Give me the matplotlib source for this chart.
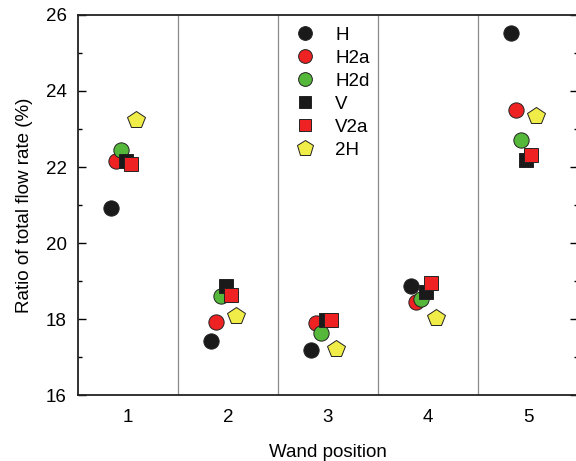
import matplotlib.pyplot as plt
import numpy as np

# Ratio of total flow rate (%) at each wand position
positions = [1, 2, 3, 4, 5]
series = ["H", "H2a", "H2d", "V", "V2a", "2H"]
ratio_H = [20.93, 17.42, 17.18, 18.88, 25.53]
ratio_H2a = [22.16, 17.92, 17.90, 18.44, 23.49]
ratio_H2d = [22.46, 18.60, 17.63, 18.53, 22.70]
ratio_V = [22.17, 18.86, 17.98, 18.70, 22.18]
ratio_V2a = [22.08, 18.63, 17.97, 18.94, 22.32]
ratio_2H = [23.24, 18.07, 17.22, 18.02, 23.35]
values = [ratio_H, ratio_H2a, ratio_H2d, ratio_V, ratio_V2a, ratio_2H]

# marker style per series
offsets = [-0.17, -0.125, -0.075, -0.02, 0.03, 0.082]
markers = ["o", "o", "o", "s", "s", "p"]
colors = ["#1a1a1a", "#ee2222", "#55b83a", "#1a1a1a", "#ee2222", "#f0ec48"]
sizes = [11, 11, 11, 10, 10, 13]

plt.rcParams['font.family'] = ['Liberation Sans', 'DejaVu Sans']
plt.rcParams['font.size'] = 13.5

fig = plt.figure(figsize=(5.76, 4.61), dpi=100)
ax = fig.add_axes([78 / 576, 66 / 461, 500 / 576, 380 / 461])

x = np.array(positions, dtype=float)
for name, vals, off, m, c, s in zip(series, values, offsets, markers, colors, sizes):
    ax.plot(x + off, vals, linestyle="none", marker=m, markersize=s,
            markerfacecolor=c, markeredgecolor="#222222", markeredgewidth=0.7,
            label=name)

# separators between wand positions
for b in [1.5, 2.5, 3.5, 4.5]:
    ax.axvline(b, color="#8a8a8a", linewidth=0.9, zorder=0)

ax.set_xlim(0.5, 5.5)
ax.set_ylim(16, 26)
ax.set_xticks(positions)
ax.set_yticks(np.arange(16, 27, 2))
ax.set_yticks(np.arange(17, 26, 2), minor=True)
ax.tick_params(axis="x", length=0, pad=10)
ax.tick_params(axis="y", which="major", direction="in", length=6, width=1,
               right=True, pad=8)
ax.tick_params(axis="y", which="minor", direction="in", length=3, width=1,
               right=True)
for sp in ax.spines.values():
    sp.set_linewidth(1.3)
    sp.set_color("#222222")

ax.set_xlabel("Wand position", labelpad=13)
ax.set_ylabel("Ratio of total flow rate (%)", labelpad=9)

ax.legend(loc="upper left", bbox_to_anchor=(0.426, 0.969), frameon=False,
          borderpad=0, borderaxespad=0, numpoints=1, handlelength=1.5,
          handletextpad=0.85, labelspacing=0.31, markerscale=0.9)

fig.savefig("out.png", dpi=100)
